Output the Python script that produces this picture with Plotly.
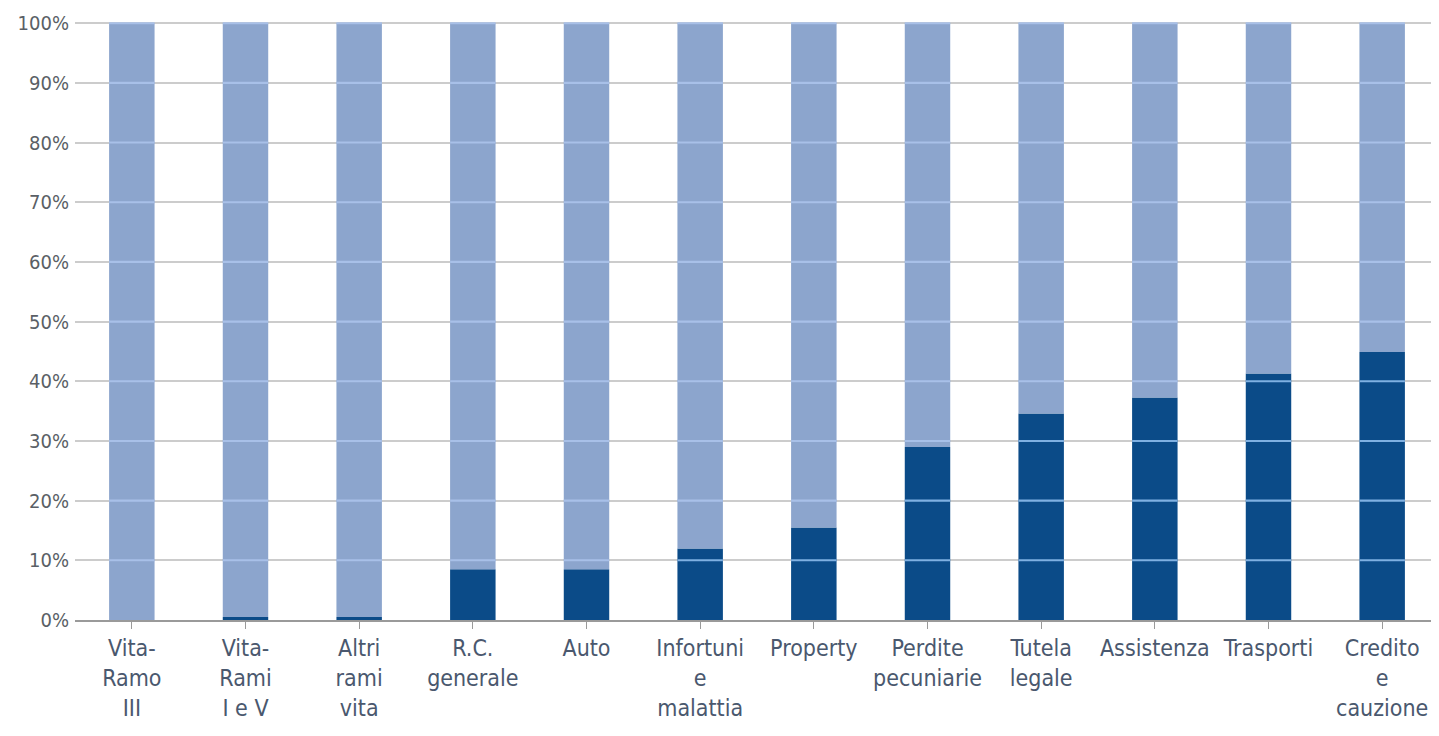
import plotly.graph_objects as go

categories = ["Vita-<br>Ramo<br>III", "Vita-<br>Rami<br>I e V", "Altri<br>rami<br>vita", "R.C.<br>generale",
              "Auto", "Infortuni<br>e<br>malattia", "Property", "Perdite<br>pecuniarie", "Tutela<br>legale",
              "Assistenza", "Trasporti", "Credito<br>e<br>cauzione"]
dark_share = [0, 0.5, 0.5, 8.5, 8.5, 12.0, 15.5, 29.0, 34.6, 37.3, 41.3, 44.9]
light_share = [100 - v for v in dark_share]
grid_levels = [10, 20, 30, 40, 50, 60, 70, 80, 90, 100]

DARK = "#0b4b88"
LIGHT = "#8ca5cd"
GRID_ON_DARK = "#7fb0e2"
GRID_ON_LIGHT = "#a8c0e8"
BAR_W = 0.4

xs = list(range(len(categories)))

fig = go.Figure()
fig.add_trace(go.Bar(x=xs, y=dark_share, base=[0] * len(xs), width=BAR_W,
                     marker=dict(color=DARK, line=dict(width=0)), name="dark"))
fig.add_trace(go.Bar(x=xs, y=light_share, base=dark_share, width=BAR_W,
                     marker=dict(color=LIGHT, line=dict(width=0)), name="light"))

# gridlines showing through the bars
gx, gb, gy, gc = [], [], [], []
h = 0.35
for lv in grid_levels:
    for i, d in zip(xs, dark_share):
        gx.append(i)
        gb.append(lv - h / 2)
        gy.append(h)
        gc.append(GRID_ON_DARK if lv <= d else GRID_ON_LIGHT)
fig.add_trace(go.Bar(x=gx, y=gy, base=gb, width=BAR_W,
                     marker=dict(color=gc, line=dict(width=0)), hoverinfo="skip"))

FONT = "DejaVu Sans Condensed, DejaVu Sans"

fig.update_layout(
    width=1431, height=728,
    barmode="overlay",
    showlegend=False,
    plot_bgcolor="white", paper_bgcolor="white",
    margin=dict(l=67, r=0, t=14, b=116),
    font=dict(family=FONT, color="#4a586e", size=23),
)
fig.update_xaxes(
    range=[-0.5, 11.5], tickmode="array", tickvals=xs, ticktext=categories,
    showline=True, linecolor="#9a9a9a", linewidth=1.5,
    ticks="outside", tickson="boundaries", ticklen=7, tickcolor="#9a9a9a",
    showgrid=False, zeroline=False, automargin=False,
    tickfont=dict(family=FONT, size=23, color="#4a586e"),
)
fig.update_yaxes(
    range=[0, 100.2], tickmode="array", tickvals=[0] + grid_levels,
    ticktext=[f"{v}%" for v in [0] + grid_levels],
    showgrid=True, gridcolor="#cccccc", gridwidth=2,
    zeroline=False, showline=False, ticks="", ticklabelstandoff=5, automargin=False,
    tickfont=dict(family=FONT, size=20, color="#5a5f66"),
)

fig.write_html("out.html")
